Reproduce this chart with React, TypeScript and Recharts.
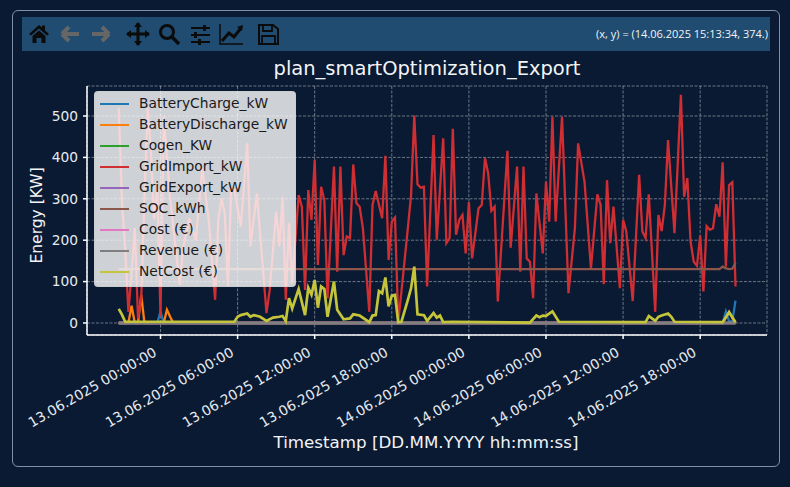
import React from 'react';
import { LineChart, Line, XAxis, YAxis, CartesianGrid } from 'recharts';

// each reading is [quarter hour slot since 12.06.2025 20:45, value]
const gridImport: [number, number][] = [
  [0, 519], [1, 293], [2, 180], [3, 27], [4, 120], [5, 229], [6, 11], [7, 60], [8, 300], [9, 520], [10, 420], [11, 250], [12, 330], [13, 15], [14, 500],
  [16, 300], [19, 92], [20, 180], [22, 253], [24, 200], [26, 374], [28, 250], [30, 56], [31, 250], [32, 300], [33, 265], [34, 88], [35, 321], [36, 321],
  [38, 233], [40, 434], [41, 185], [43, 313], [46, 24], [47, 80], [49, 269], [50, 185], [51, 305], [52, 56], [53, 241], [54, 96], [56, 309], [57, 281], [58, 80],
  [59, 321], [60, 249], [61, 394], [62, 140], [63, 329], [64, 297], [65, 60], [67, 378], [68, 124], [69, 378], [70, 164], [71, 209], [72, 205], [73, 383],
  [74, 289], [75, 281], [76, 229], [78, 27], [79, 285], [80, 319], [82, 253], [83, 404], [84, 152], [85, 245], [86, 255], [87, 3], [88, 76], [90, 229], [91, 309],
  [92, 501], [93, 335], [94, 327], [95, 329], [96, 88], [98, 454], [99, 201], [101, 446], [102, 193], [103, 205], [104, 469], [105, 213], [106, 249], [107, 261],
  [108, 168], [109, 292], [110, 156], [112, 277], [113, 285], [114, 398], [115, 362], [116, 271], [117, 281], [118, 52], [121, 416], [122, 182], [124, 378],
  [125, 124], [126, 378], [127, 156], [128, 148], [129, 60], [130, 313], [132, 168], [133, 341], [134, 245], [135, 498], [136, 245], [138, 498], [140, 72],
  [142, 229], [143, 434], [145, 341], [147, 132], [149, 311], [150, 285], [151, 94], [152, 345], [153, 193], [154, 281], [156, 84], [157, 249], [158, 221],
  [160, 53], [162, 358], [163, 221], [164, 205], [165, 311], [167, 27], [168, 261], [169, 222], [170, 285], [171, 442], [173, 217], [175, 551], [176, 305],
  [177, 350], [178, 197], [179, 148], [180, 138], [181, 211], [182, 76], [183, 234], [184, 225], [185, 229], [186, 287], [187, 257], [188, 388], [189, 136],
  [190, 333], [191, 340], [192, 88],
];

const netCost: [number, number][] = [
  [0, 34], [1, 20], [2, 3], [36, 3], [37, 15], [38, 19], [40, 23], [41, 15], [42, 19], [44, 15], [46, 5], [48, 13], [50, 15], [51, 17], [52, 5], [53, 60], [54, 35],
  [56, 82], [58, 19], [59, 85], [60, 68], [61, 104], [62, 37], [63, 88], [64, 82], [65, 15], [67, 100], [68, 32], [70, 9], [72, 11], [73, 21], [75, 18], [78, 2],
  [79, 18], [80, 19], [81, 77], [82, 72], [83, 110], [84, 40], [85, 66], [86, 68], [87, 2], [88, 3], [90, 56], [91, 84], [92, 136], [93, 21], [95, 19], [96, 5],
  [98, 24], [99, 13], [100, 18], [101, 2], [104, 3], [128, 1], [130, 18], [131, 14], [132, 18], [133, 17], [135, 28], [137, 3], [164, 2], [165, 17], [167, 5],
  [168, 15], [169, 18], [171, 23], [172, 15], [173, 3], [188, 2], [190, 26], [192, 2],
];

const batteryCharge: [number, number][] = [[0, 0], [12, 0], [13, 28], [14, 0], [188, 0], [189, 28], [190, 4], [191, 4], [192, 54]];
const batteryDischarge: [number, number][] = [[0, 0], [3, 0], [4, 42], [5, 0], [6, 0], [7, 68], [8, 0], [14, 0], [15, 32], [16, 15], [17, 0], [188, 0], [190, 27], [192, 0]];
const cogen: [number, number][] = [[0, 0], [192, 0]];
const gridExport: [number, number][] = [[0, 0], [192, 0]];
const soc: [number, number][] = [[0, 130], [187, 130], [188, 136], [189, 132], [190, 130], [191, 131], [192, 145]];
const cost: [number, number][] = [[0, 0], [192, 0]];
const revenue: [number, number][] = [[0, 0], [192, 0]];

const xTicks = [0, 6, 12, 18, 24, 30, 36, 42];
const xTickLabels = [
  '13.06.2025 00:00:00', '13.06.2025 06:00:00', '13.06.2025 12:00:00', '13.06.2025 18:00:00',
  '14.06.2025 00:00:00', '14.06.2025 06:00:00', '14.06.2025 12:00:00', '14.06.2025 18:00:00',
];
const yTicks = [0, 100, 200, 300, 400, 500];

const series = [
  { name: 'BatteryCharge_kW', color: '#1f77b4', points: batteryCharge },
  { name: 'BatteryDischarge_kW', color: '#ff7f0e', points: batteryDischarge },
  { name: 'Cogen_KW', color: '#2ca02c', points: cogen },
  { name: 'GridImport_kW', color: '#cf2e32', points: gridImport },
  { name: 'GridExport_kW', color: '#9467bd', points: gridExport },
  { name: 'SOC_kWh', color: '#8c564b', points: soc },
  { name: 'Cost (€)', color: '#e377c2', points: cost },
  { name: 'Revenue (€)', color: '#7f7f7f', points: revenue },
  { name: 'NetCost (€)', color: '#c4c53a', points: netCost },
];

const toRows = (points: [number, number][]) => points.map(([slot, v]) => ({ h: slot * 0.25 - 3.25, v }));

const FONT = '"DejaVu Sans", sans-serif';
const BG = '#0a1a33';

const XTick = ({ x, y, payload }: any) => (
  <text
    x={0}
    y={0}
    transform={`translate(${x - 8},${y + 5}) rotate(-30)`}
    textAnchor="end"
    dominantBaseline="hanging"
    fontSize={13.8}
    fontFamily={FONT}
    fill="#e6e9ee"
  >
    {xTickLabels[xTicks.indexOf(payload.value)]}
  </text>
);

const Toolbar = () => (
  <svg width={300} height={34} style={{ position: 'absolute', left: 0, top: 0 }}>
    {/* home */}
    <path d="M7 17 L17 8 L20 10.5 V8.5 H23 V13.5 L27 17 L25 18.5 L17 11.5 L9 18.5 Z M10.5 19 L17 13.5 L23.5 19 V26 H19.5 V21 H14.5 V26 H10.5 Z" fill="#0b0b0b" />
    {/* back / forward */}
    <path d="M40 17 H57 M40 17 L47 10 M40 17 L47 24" stroke="#666" strokeWidth={4} fill="none" />
    <path d="M70 17 H87 M87 17 L80 10 M87 17 L80 24" stroke="#666" strokeWidth={4} fill="none" />
    {/* move */}
    <path d="M116 6 V28 M105 17 H127" stroke="#0b0b0b" strokeWidth={3} />
    <path d="M116 5 L120 10 H112 Z M116 29 L120 24 H112 Z M104 17 L109 13 V21 Z M128 17 L123 13 V21 Z" fill="#0b0b0b" />
    {/* zoom */}
    <circle cx={145} cy={15} r={6.5} fill="none" stroke="#0b0b0b" strokeWidth={3} />
    <path d="M150 20 L157 27" stroke="#0b0b0b" strokeWidth={3.5} />
    {/* sliders */}
    <path d="M169 11 H188 M169 18 H188 M169 25 H188" stroke="#0b0b0b" strokeWidth={2} />
    <rect x={181} y={8} width={3} height={6} fill="#0b0b0b" />
    <rect x={172} y={15} width={3} height={6} fill="#0b0b0b" />
    <rect x={176} y={22} width={3} height={6} fill="#0b0b0b" />
    {/* lines */}
    <path d="M198 7 V27 H221" stroke="#0b0b0b" strokeWidth={1.5} fill="none" />
    <path d="M200 24 L207 16 L212 20 L219 11" stroke="#0b0b0b" strokeWidth={3} fill="none" />
    <path d="M215 10 L221 8 L220 14 Z" fill="#0b0b0b" />
    {/* save */}
    <path d="M237 8 H251 L256 12 V27 H237 Z" fill="none" stroke="#0b0b0b" strokeWidth={2} />
    <path d="M241 8 H250 V14 H241 Z M240 19 H253 V27 H240 Z" fill="none" stroke="#0b0b0b" strokeWidth={1.8} />
  </svg>
);

export default function App() {
  return (
    <div style={{ position: 'fixed', left: 0, top: 0, width: 790, height: 487, background: BG, overflow: 'hidden' }}>
      <div style={{ position: 'absolute', left: 12, top: 10, width: 766, height: 455, border: '1px solid #7f90a6', borderRadius: 6 }} />
      <div style={{ position: 'absolute', left: 22, top: 17, width: 748, height: 34, background: '#1f4c70' }}>
        <Toolbar />
        <div style={{ position: 'absolute', right: 2, top: 9, fontFamily: '"Open Sans", sans-serif', fontSize: 11, color: '#f2f4f7', whiteSpace: 'nowrap' }}>
          (x, y) = (14.06.2025 15:13:34, 374.)
        </div>
      </div>
      <div style={{ position: 'absolute', left: 87, width: 680, top: 57, textAlign: 'center', fontFamily: FONT, fontSize: 19.5, color: '#f2f4f7', whiteSpace: 'nowrap' }}>
        plan_smartOptimization_Export
      </div>

      <div style={{ position: 'absolute', left: 0, top: 0 }}>
        <LineChart width={790} height={487} margin={{ top: 86, right: 23, bottom: 0, left: 0 }}>
          <CartesianGrid stroke="#ffffff" strokeOpacity={0.5} strokeDasharray="3 1.5" strokeWidth={0.8} />
          <XAxis
            type="number"
            dataKey="h"
            domain={[-5.72, 47.2]}
            ticks={xTicks}
            height={152}
            interval={0}
            tick={<XTick />}
            tickSize={4}
            stroke="#ffffff"
            strokeWidth={1.5}
            allowDuplicatedCategory={false}
            label={{ value: 'Timestamp [DD.MM.YYYY hh:mm:ss]', position: 'insideTop', dy: 96, dx: -1, fontSize: 16.7, fontFamily: FONT, fill: '#f2f4f7' }}
          />
          <YAxis
            type="number"
            domain={[-29, 572.5]}
            ticks={yTicks}
            width={87}
            interval={0}
            tickSize={4}
            tickMargin={5}
            stroke="#ffffff"
            strokeWidth={1.5}
            tick={{ fontSize: 13.8, fontFamily: FONT, fill: '#e6e9ee' }}
            label={{ value: 'Energy [KW]', angle: -90, position: 'insideLeft', dx: 31, dy: 53, fontSize: 15.5, fontFamily: FONT, fill: '#f2f4f7' }}
          />
          {series.map((s) => (
            <Line
              key={s.name}
              data={toRows(s.points)}
              dataKey="v"
              name={s.name}
              type="linear"
              stroke={s.color}
              strokeWidth={s.name === 'NetCost (€)' || s.name === 'Revenue (€)' ? 2.7 : 2.3}
              dot={false}
              activeDot={false}
              isAnimationActive={false}
            />
          ))}
        </LineChart>
      </div>

      {/* legend sits over the lines, they show through it */}
      <div
        style={{
          position: 'absolute', left: 94, top: 91, width: 200, height: 194, background: 'rgba(255,255,255,0.8)',
          border: '1px solid rgba(204,204,204,0.8)', borderRadius: 4, fontFamily: FONT, fontSize: 13.8, color: '#1a1a1a',
        }}
      >
        {series.map((s, i) => (
          <div key={s.name} style={{ position: 'absolute', left: 0, top: 1 + i * 21, height: 21, lineHeight: '21px', whiteSpace: 'nowrap' }}>
            <span style={{ position: 'absolute', left: 5, top: 10, width: 29, height: 2, background: s.color }} />
            <span style={{ position: 'absolute', left: 44 }}>{s.name}</span>
          </div>
        ))}
      </div>
    </div>
  );
}
